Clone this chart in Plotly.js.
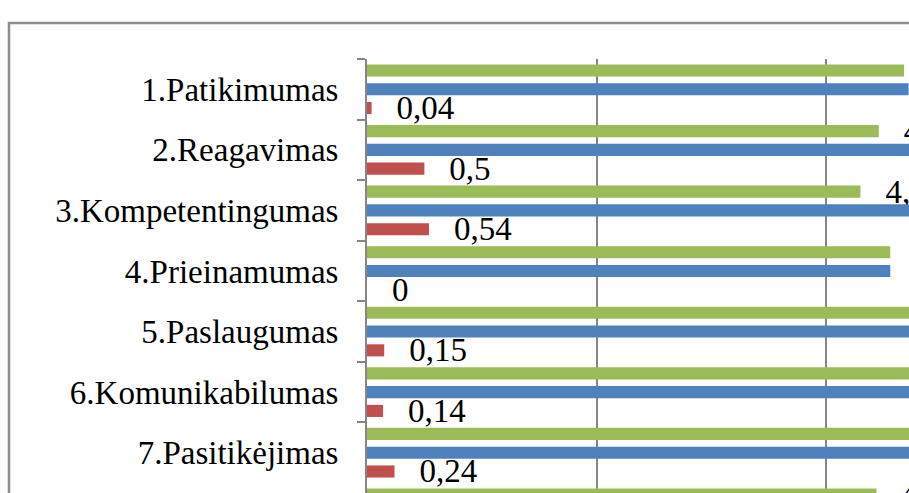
<!DOCTYPE html>
<html>
<head>
<meta charset="utf-8">
<script src="https://cdn.plot.ly/plotly-3.0.1.min.js"></script>
<style>html,body{margin:0;padding:0;background:#fff;}#chart{width:909px;height:493px;}</style>
</head>
<body>
<div id="chart"></div>
<script>
// Data
var categories = ['1.Patikimumas', '2.Reagavimas', '3.Kompetentingumas', '4.Prieinamumas',
                  '5.Paslaugumas', '6.Komunikabilumas', '7.Pasitikėjimas', '8.Saugumas'];
var perceived = [4.68, 4.46, 4.30, 4.56, 4.80, 4.78, 4.73, 4.44];   // green
var expected  = [4.72, 4.96, 4.84, 4.56, 4.95, 4.92, 4.97, 4.60];   // blue
var gap       = [0.04, 0.5, 0.54, 0, 0.15, 0.14, 0.24, 0.16];       // red

var W = 909, H = 493;
var L = 367, T = 59;
var plotW = W - L, plotH = H - T;
var PAD = '\u2002\u2006';
function fmt(v) { return PAD + String(v).replace('.', ','); }

var font = {family: 'Liberation Serif', size: 33, color: '#000'};

function mk(vals, color, name) {
  return {
    type: 'bar', orientation: 'h', name: name,
    y: categories, x: vals,
    marker: {color: color, line: {width: 0}},
    text: vals.map(fmt), textposition: 'outside', constraintext: 'none',
    textfont: font, cliponaxis: true, hoverinfo: 'skip'
  };
}

var data = [
  mk(perceived, '#9BBB59', 'Suvokimas'),
  mk(expected, '#4F81BD', 'Lūkesčiai'),
  mk(gap, '#C0504D', 'Atotrūkis')
];

function px2x(px) { return (px - L) / plotW; }
function py2y(py) { return 1 - (py - T) / plotH; }

var layout = {
  width: W, height: H,
  margin: {l: L, r: 0, t: T, b: 0, pad: 0},
  paper_bgcolor: '#fff', plot_bgcolor: '#fff',
  showlegend: false,
  barmode: 'group', bargap: 0.07, bargroupgap: 0.355,
  font: font,
  xaxis: {
    range: [0, (W - L) / 114.75], dtick: 2, tick0: 0,
    showgrid: true, gridcolor: '#868686', gridwidth: 2,
    zeroline: false, showticklabels: false, showline: false, ticks: ''
  },
  yaxis: {
    type: 'category',
    range: [-0.5 + plotH / 60.57, -0.5],
    showline: true, linecolor: '#868686', linewidth: 2,
    ticks: 'outside', ticklen: 8, tickwidth: 2, tickcolor: '#868686',
    tickson: 'boundaries', showgrid: false, zeroline: false,
    tickfont: font, ticklabelstandoff: 20
  },
  shapes: [{
    type: 'rect', xref: 'paper', yref: 'paper',
    x0: px2x(9), x1: px2x(W + 20), y0: py2y(H + 20), y1: py2y(23),
    line: {color: '#8c8c8c', width: 2.5}, fillcolor: 'rgba(0,0,0,0)', layer: 'below'
  }]
};

Plotly.newPlot('chart', data, layout, {displayModeBar: false, staticPlot: true});
</script>
</body>
</html>
